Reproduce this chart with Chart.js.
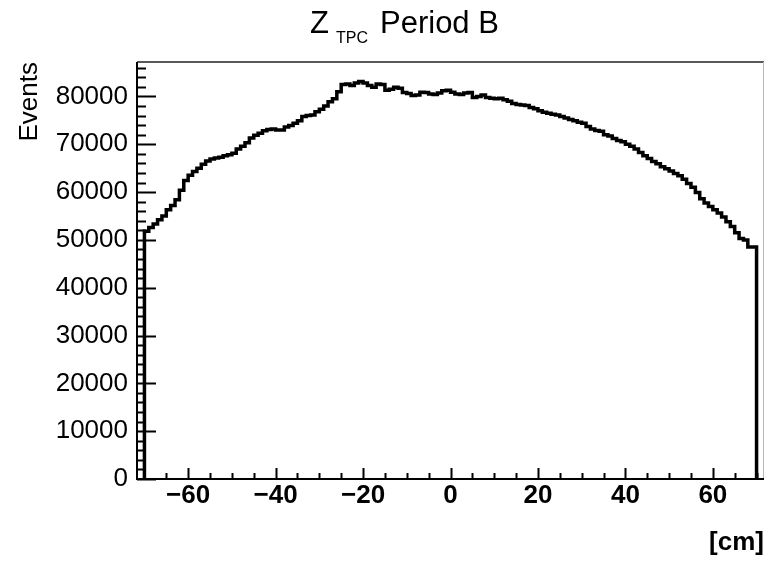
<!DOCTYPE html>
<html>
<head>
<meta charset="utf-8">
<script src="https://cdn.jsdelivr.net/npm/chart.js@4.4.0/dist/chart.umd.min.js"></script>
<style>
  html, body { margin: 0; padding: 0; background: #fff; }
  #plot { display: block; }
</style>
</head>
<body>
<canvas id="plot" width="765" height="561"></canvas>
<script>
// histogram binning (cm), 1 cm bins from -70 to 70
var binLow = -70;
var binWidth = 1;

// events per bin
var events = [
  51200, 51800, 52600, 53300, 54200, 55000, 56300, 57200, 58400, 60400,
  62400, 63500, 64300, 65000, 65800, 66500, 66900, 67100, 67300, 67600,
  67800, 68100, 69000, 69600, 70300, 71300, 71900, 72300, 72800, 73100,
  73200, 73000, 73000, 73600, 73900, 74400, 74900, 75800, 76000, 76100,
  76800, 77300, 78000, 78900, 79500, 81000, 82500, 82600, 82300, 82800,
  83100, 82800, 82300, 81900, 82600, 82500, 81300, 81500, 81900, 81700,
  80800, 80600, 80200, 80300, 80900, 80800, 80500, 80400, 80700, 81200,
  81300, 80900, 80500, 80400, 80700, 80800, 79800, 80000, 80300, 79800,
  79600, 79500, 79600, 79300, 79000, 78500, 78300, 78200, 78100, 77700,
  77400, 77000, 76700, 76500, 76300, 76100, 75800, 75500, 75200, 74900,
  74600, 74400, 73700, 73200, 72900, 72700, 72000, 71700, 71200, 70800,
  70500, 70000, 69600, 69000, 68300, 67600, 67000, 66400, 65900, 65300,
  64900, 64400, 63900, 63400, 62700, 61800, 61000, 59900, 58600, 57700,
  57000, 56300, 55600, 54800, 53800, 52800, 51500, 50300, 50000, 48500
];

var xTicks = [-60, -40, -20, 0, 20, 40, 60];
var yTicks = [0, 10000, 20000, 30000, 40000, 50000, 60000, 70000, 80000];
var xRange = [-71.7, 71.7];
var yRange = [0, 87200];

var titleMain = 'Z';
var titleSub = 'TPC';
var titleRest = 'Period B';
var xTitle = '[cm]';
var yTitle = 'Events';

var FONT = '"Liberation Sans", Arial, Helvetica, sans-serif';

// outline of the histogram as a stepped line
var outline = [{ x: binLow, y: 0 }];
events.forEach(function(v, i) {
  outline.push({ x: binLow + i * binWidth, y: v });
});
var binHigh = binLow + events.length * binWidth;
outline.push({ x: binHigh, y: events[events.length - 1] });
outline.push({ x: binHigh, y: 0 });

// ROOT style: frame + inward ticks
var frameTicks = {
  id: 'frameTicks',
  afterDatasetsDraw: function(chart) {
    var ctx = chart.ctx;
    var a = chart.chartArea;
    var xs = chart.scales.x;
    var ys = chart.scales.y;
    ctx.save();

    // top and right of the frame
    ctx.strokeStyle = '#222';
    ctx.lineWidth = 1.5;
    ctx.beginPath();
    ctx.moveTo(a.left, a.top);
    ctx.lineTo(a.right, a.top);
    ctx.stroke();
    ctx.strokeStyle = '#bbb';
    ctx.lineWidth = 1;
    ctx.beginPath();
    ctx.moveTo(a.right - 0.5, a.top);
    ctx.lineTo(a.right - 0.5, a.bottom);
    ctx.stroke();

    ctx.strokeStyle = '#000';
    ctx.lineWidth = 2;
    // axis lines
    ctx.beginPath();
    ctx.moveTo(a.left, a.top);
    ctx.lineTo(a.left, a.bottom);
    ctx.lineTo(a.right, a.bottom);
    ctx.stroke();

    // x ticks, minor every 5
    ctx.beginPath();
    for (var v = -70; v <= 70; v += 5) {
      var px = Math.round(xs.getPixelForValue(v)) + 0.5;
      var len = (v % 20 === 0) ? 11 : 6;
      ctx.moveTo(px, a.bottom);
      ctx.lineTo(px, a.bottom - len);
    }
    // y ticks, minor every 2000
    for (var w = 0; w <= yRange[1]; w += 2000) {
      var py = Math.round(ys.getPixelForValue(w)) + 0.5;
      var l2 = (w % 10000 === 0) ? 19 : 9;
      ctx.moveTo(a.left, py);
      ctx.lineTo(a.left + l2, py);
    }
    ctx.stroke();
    ctx.restore();
  }
};

// title with subscript
var titleText = {
  id: 'titleText',
  afterDraw: function(chart) {
    var ctx = chart.ctx;
    ctx.save();
    ctx.fillStyle = '#000';
    ctx.textBaseline = 'alphabetic';
    ctx.textAlign = 'left';
    ctx.font = '31px ' + FONT;
    ctx.fillText(titleMain, 310, 33);
    ctx.font = '16px ' + FONT;
    ctx.fillText(titleSub, 336, 43);
    ctx.font = '31px ' + FONT;
    ctx.fillText(titleRest, 380, 33);
    ctx.restore();
  }
};

new Chart(document.getElementById('plot'), {
  type: 'line',
  data: {
    datasets: [{
      data: outline,
      stepped: 'after',
      borderColor: '#000',
      borderWidth: 3.5,
      pointRadius: 0,
      fill: false
    }]
  },
  options: {
    responsive: false,
    animation: false,
    layout: { padding: { top: 62, right: 1, left: 0, bottom: 0 } },
    plugins: {
      legend: { display: false },
      tooltip: { enabled: false },
      title: { display: false }
    },
    scales: {
      x: {
        type: 'linear',
        min: xRange[0],
        max: xRange[1],
        afterBuildTicks: function(scale) {
          scale.ticks = xTicks.map(function(v) { return { value: v }; });
        },
        afterFit: function(scale) { scale.height = 82; },
        grid: { display: false, drawTicks: false },
        border: { display: false },
        ticks: {
          autoSkip: false,
          maxRotation: 0,
          padding: 1,
          color: '#000',
          font: { family: FONT, size: 26, weight: 'bold' },
          callback: function(v) { return v < 0 ? '\u2212' + Math.abs(v) : String(v); }
        },
        title: {
          display: true,
          text: xTitle,
          align: 'end',
          color: '#000',
          font: { family: FONT, size: 26, weight: 'bold' },
          padding: { top: 0, bottom: 3 }
        }
      },
      y: {
        type: 'linear',
        min: yRange[0],
        max: yRange[1],
        afterBuildTicks: function(scale) {
          scale.ticks = yTicks.map(function(v) { return { value: v }; });
        },
        afterFit: function(scale) { scale.width = 137; },
        grid: { display: false, drawTicks: false },
        border: { display: false },
        ticks: {
          autoSkip: false,
          padding: 9,
          color: '#000',
          font: { family: FONT, size: 26 },
          callback: function(v) { return String(v); }
        },
        title: {
          display: true,
          text: yTitle,
          align: 'end',
          color: '#000',
          font: { family: FONT, size: 26 },
          padding: { top: 14, bottom: 0 }
        }
      }
    }
  },
  plugins: [frameTicks, titleText]
});
</script>
</body>
</html>
